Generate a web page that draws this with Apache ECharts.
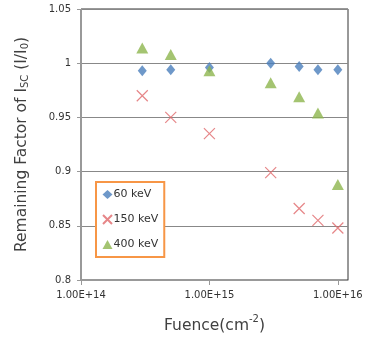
<!DOCTYPE html>
<html>
<head>
<meta charset="utf-8">
<script src="https://cdn.jsdelivr.net/npm/echarts@6/dist/echarts.min.js"></script>
<style>
html,body{margin:0;padding:0;background:#fff;}
#main{width:366px;height:339px;}
</style>
</head>
<body>
<div id="main"></div>
<script>
var fluence = [3e14, 5e14, 1e15, 3e15, 5e15, 7e15, 1e16];
var kev60 = [0.993, 0.994, 0.996, 1.000, 0.997, 0.994, 0.994];
var kev150 = [0.970, 0.950, 0.935, 0.899, 0.866, 0.855, 0.848];
var kev400 = [1.014, 1.008, 0.993, 0.982, 0.969, 0.954, 0.888];
var xTicks = [1e14, 1e15, 1e16];

var font = 'DejaVu Sans';

function pairs(ys){
	var out = [];
	for(var i = 0; i < fluence.length; i++){
		out.push([fluence[i], ys[i]]);
	}
	return out;
}

var chart = echarts.init(document.getElementById('main'));

chart.setOption({
	animation: false,
	textStyle: {fontFamily: font},
	grid: {
		left: 81, right: 18, top: 9, bottom: 58,
		show: true, borderColor: '#333', borderWidth: 1
	},
	legend: {
		orient: 'vertical',
		left: 96, top: 182,
		padding: [7, 6, 7, 6],
		itemGap: 14,
		itemWidth: 10, itemHeight: 9,
		borderColor: '#F79646', borderWidth: 2,
		backgroundColor: '#fff',
		textStyle: {fontFamily: font, fontSize: 11, color: '#333', padding: [0, 0, 0, -4]},
		data: ['60 keV', '150 keV', '400 keV']
	},
	xAxis: {
		type: 'log',
		logBase: 10,
		min: 1e14,
		max: 1.2e16,
		name: 'Fuence(cm{sup|-2})',
		nameLocation: 'middle',
		nameGap: 34,
		nameTextStyle: {
			fontFamily: font, fontSize: 15.5, color: '#404040',
			rich: {sup: {fontSize: 10, color: '#404040', verticalAlign: 'top', lineHeight: 24}}
		},
		axisLine: {lineStyle: {color: '#999', width: 1}},
		axisTick: {show: true, length: 5, customValues: xTicks, lineStyle: {color: '#999'}},
		axisLabel: {
			customValues: xTicks,
			fontFamily: font, fontSize: 10, color: '#333', margin: 10,
			formatter: function(v){ return Number(v).toExponential(2).toUpperCase(); }
		},
		splitLine: {show: false},
		minorTick: {show: false}
	},
	yAxis: {
		type: 'value',
		min: 0.8, max: 1.05, interval: 0.05,
		name: 'Remaining Factor of I{sub|SC} (I/I{sub|0})',
		nameLocation: 'middle',
		nameGap: 51,
		nameTextStyle: {
			fontFamily: font, fontSize: 15.5, color: '#404040',
			rich: {sub: {fontSize: 10, color: '#404040', verticalAlign: 'bottom', lineHeight: 13}}
		},
		axisLine: {show: true, lineStyle: {color: '#999', width: 1}},
		axisTick: {show: true, length: 4, lineStyle: {color: '#999'}},
		axisLabel: {fontFamily: font, fontSize: 10, color: '#333', margin: 10,
			formatter: function(v){ return String(+v.toFixed(2)); }},
		splitLine: {show: true, lineStyle: {color: '#888', width: 1}}
	},
	series: [
		{
			name: '60 keV', type: 'scatter',
			symbol: 'diamond', symbolSize: [9, 11],
			itemStyle: {color: '#4A7EBB'},
			data: pairs(kev60)
		},
		{
			name: '150 keV', type: 'scatter',
			symbol: 'path://M0,0L10,10M10,0L0,10', symbolSize: 11,
			itemStyle: {color: 'rgba(0,0,0,0)', borderColor: '#E0686A', borderWidth: 1.2},
			data: pairs(kev150)
		},
		{
			name: '400 keV', type: 'scatter',
			symbol: 'triangle', symbolSize: [12, 11],
			itemStyle: {color: '#8DB54E'},
			data: pairs(kev400)
		}
	]
});
</script>
</body>
</html>
